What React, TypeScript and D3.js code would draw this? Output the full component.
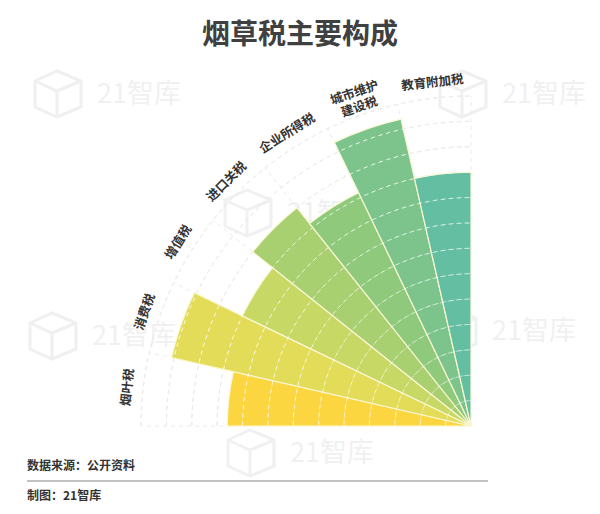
import React from "react";
import * as d3 from "d3";

const categories = ["烟叶税", "消费税", "增值税", "进口关税", "企业所得税", "城市维护建设税", "教育附加税"];
const labelLines = [["烟叶税"], ["消费税"], ["增值税"], ["进口关税"], ["企业所得税"], ["城市维护", "建设税"], ["教育附加税"]];
const values = [96, 121, 100, 110, 102, 124, 100];
const colors = ["#fcd640", "#e2dc58", "#c7d865", "#a9d070", "#8fca7c", "#7cc48b", "#63bea2"];
const radialTicks = d3.range(10, 131, 10);
const title = "烟草税主要构成";
const sourceText = "数据来源：公开资料";
const creditText = "制图：21智库";
const watermarks = [
  [35, 103], [440, 103], [225, 222], [30, 345], [430, 340], [228, 462],
];

const W = 600, H = 514;
const cx = 471, cy = 426;
const R = 330;
const FONT = "'Noto Sans CJK SC', 'Noto Sans', sans-serif";

export default function App() {
  const rScale = d3.scaleLinear().domain([0, 130]).range([0, R]);
  const aScale = d3.scaleBand<string>().domain(categories).range([-Math.PI / 2, 0]).padding(0);
  const bw = aScale.bandwidth();
  const arc = d3.arc<any>();
  const boundaries = d3.range(categories.length + 1).map((i) => -Math.PI / 2 + i * bw);

  return (
    <svg width={W} height={H} style={{ position: "absolute", left: 0, top: 0, background: "#fff" }}>
      {/* watermarks */}
      {watermarks.map(([x, y], i) => (
        <g key={i} opacity={0.055} transform={`translate(${x},${y})`}>
          <path d="M0,-22 L22,-32 L46,-22 L46,4 L22,14 L0,4 Z M0,-22 L22,-12 L46,-22 M22,-12 L22,14" fill="none" stroke="#000" strokeWidth={3} />
          <text x={62} y={0} fontSize={27} fontFamily={FONT} fill="#000">21智库</text>
        </g>
      ))}

      <text x={300} y={44} textAnchor="middle" fontSize={28} fontWeight="bold" fontFamily={FONT} fill="#404040">{title}</text>

      <g transform={`translate(${cx},${cy})`}>
        {/* gray grid rings */}
        {radialTicks.map((t) => (
          <path key={"g" + t} d={arc({ innerRadius: rScale(t), outerRadius: rScale(t), startAngle: -Math.PI / 2, endAngle: 0 }) || ""}
            fill="none" stroke="#ebebeb" strokeWidth={1} strokeDasharray="4,4" />
        ))}
        {boundaries.map((a, i) => (
          <line key={"rl" + i} x1={0} y1={0} x2={R * Math.sin(a)} y2={-R * Math.cos(a)} stroke="#ebebeb" strokeWidth={1} strokeDasharray="4,4" />
        ))}
        {/* bars */}
        {categories.map((c, i) => (
          <path key={c}
            d={arc({ innerRadius: 0, outerRadius: rScale(values[i]), startAngle: aScale(c)!, endAngle: aScale(c)! + bw }) || ""}
            fill={colors[i]} stroke="#fbf7d2" strokeWidth={1.2} />
        ))}
        {/* white dashed rings over bars */}
        <defs>
          <clipPath id="barsClip">
            {categories.map((c, i) => (
              <path key={c}
                d={arc({ innerRadius: 0, outerRadius: rScale(values[i]), startAngle: aScale(c)!, endAngle: aScale(c)! + bw }) || ""} />
            ))}
          </clipPath>
        </defs>
        <g clipPath="url(#barsClip)">
          {radialTicks.map((t) => (
            <path key={"w" + t} d={arc({ innerRadius: rScale(t), outerRadius: rScale(t), startAngle: -Math.PI / 2, endAngle: 0 }) || ""}
              fill="none" stroke="#ffffff" strokeOpacity={0.55} strokeWidth={1} strokeDasharray="4,4" />
          ))}
        </g>
        {/* labels */}
        {categories.map((c, i) => {
          const a = aScale(c)! + bw / 2;
          const lr = 346;
          const x = lr * Math.sin(a), y = -lr * Math.cos(a);
          const lines = labelLines[i];
          const deg = (a * 180) / Math.PI;
          return (
            <text key={"l" + c} transform={`translate(${x},${y}) rotate(${deg})`} textAnchor="middle"
              fontSize={12.5} fontWeight="bold" fontFamily={FONT} fill="#333">
              {lines.map((ln, j) => (
                <tspan key={j} x={0} y={(j - (lines.length - 1) / 2) * 15 + 4.5}>{ln}</tspan>
              ))}
            </text>
          );
        })}
      </g>

      <text x={27} y={470} fontSize={12} fontWeight="bold" fontFamily={FONT} fill="#333">{sourceText}</text>
      <line x1={27} x2={488} y1={481} y2={481} stroke="#888" strokeWidth={1.2} />
      <text x={27} y={500} fontSize={12} fontWeight="bold" fontFamily={FONT} fill="#333">{creditText}</text>
    </svg>
  );
}
